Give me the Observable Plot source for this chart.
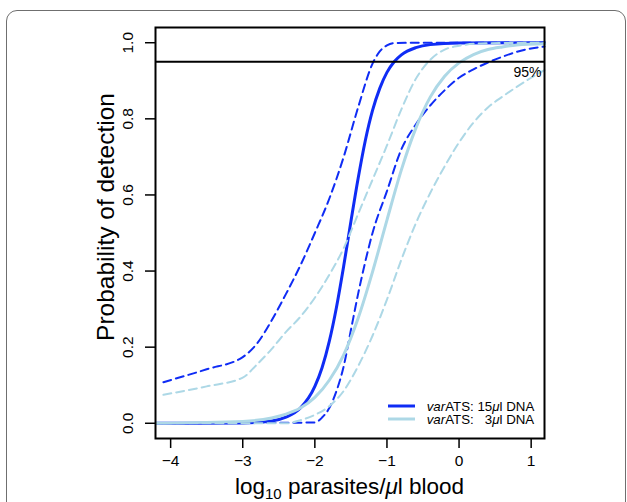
<!DOCTYPE html>
<html>
<head>
<meta charset="utf-8">
<script src="https://cdn.jsdelivr.net/npm/d3@7"></script>
<script src="https://cdn.jsdelivr.net/npm/@observablehq/plot@0.6"></script>
<style>
  body { margin: 0; background: #fff; font-family: "Liberation Sans", Arial, sans-serif; }
  #wrap { position: relative; width: 627px; height: 502px; overflow: hidden; background: #fff; }
  #card { position: absolute; left: 6px; top: 10px; width: 620px; height: 620px; border: 1.6px solid #6f6f6f; border-radius: 11px; box-sizing: border-box; }
  #chart { position: absolute; left: 0; top: 0; }
  #overlay { position: absolute; left: 0; top: 0; pointer-events: none; }
</style>
</head>
<body>
<div id="wrap">
  <div id="card"></div>
  <div id="chart"></div>
  <svg id="overlay" width="627" height="502"></svg>
</div>
<script>
// ---- data ----
const xTicks = [-4, -3, -2, -1, 0, 1];
const yTicks = [0, 0.2, 0.4, 0.6, 0.8, 1.0];
const threshold = 0.95;
const thresholdLabel = "95%";
const xTitle = ["log", "10", " parasites/", "\u03bc", "l blood"];
const yTitle = "Probability of detection";
const legendLabels = [["var", "ATS: 15", "\u03bc", "l DNA"], ["var", "ATS:   3", "\u03bc", "l DNA"]];

// varATS 15 ul DNA: fitted curve
const fit15X = [-4.2, -3.0, -2.6, -2.4, -2.2, -2.0, -1.9, -1.8, -1.7, -1.6, -1.5, -1.4, -1.3, -1.2, -1.1, -1.0, -0.9, -0.8, -0.6, -0.4, 0.0, 1.185];
const fit15  = [0.0, 0.001, 0.006, 0.016, 0.04, 0.097, 0.146, 0.215, 0.305, 0.413, 0.53, 0.643, 0.743, 0.822, 0.88, 0.922, 0.95, 0.968, 0.987, 0.995, 0.999, 1.0];
// varATS 15 ul DNA: upper band
const up15X = [-4.1, -3.5, -3.0, -2.8, -2.6, -2.4, -2.2, -2.0, -1.8, -1.6, -1.4, -1.2, -1.1, -1.0, -0.9, -0.5, 1.185];
const up15  = [0.108, 0.142, 0.174, 0.21, 0.27, 0.34, 0.415, 0.50, 0.59, 0.70, 0.83, 0.945, 0.977, 0.993, 0.999, 1.0, 1.0];
// varATS 15 ul DNA: lower band
const lo15X = [-4.1, -2.0, -1.9, -1.8, -1.7, -1.6, -1.5, -1.4, -1.3, -1.2, -1.0, -0.8, -0.6, -0.4, -0.2, 0.0, 0.2, 0.4, 0.6, 0.8, 1.0, 1.185];
const lo15  = [0.0, 0.002, 0.015, 0.04, 0.085, 0.15, 0.245, 0.34, 0.425, 0.50, 0.61, 0.72, 0.785, 0.835, 0.875, 0.908, 0.93, 0.948, 0.963, 0.976, 0.985, 0.99];
// varATS 3 ul DNA: fitted curve
const fit3X = [-4.2, -3.0, -2.6, -2.4, -2.2, -2.0, -1.8, -1.6, -1.4, -1.2, -1.0, -0.8, -0.6, -0.4, -0.2, 0.0, 0.2, 0.4, 0.6, 0.8, 1.185];
const fit3  = [0.0002, 0.005, 0.014, 0.024, 0.04, 0.068, 0.113, 0.18, 0.276, 0.398, 0.534, 0.666, 0.775, 0.857, 0.912, 0.947, 0.969, 0.982, 0.989, 0.994, 0.997];
// varATS 3 ul DNA: upper band
const up3X = [-4.1, -3.5, -3.0, -2.8, -2.6, -2.4, -2.2, -2.0, -1.8, -1.6, -1.4, -1.2, -1.0, -0.8, -0.6, -0.4, -0.2, 0.0, 0.3, 1.185];
const up3  = [0.075, 0.097, 0.12, 0.155, 0.195, 0.24, 0.28, 0.33, 0.39, 0.46, 0.55, 0.64, 0.73, 0.825, 0.905, 0.955, 0.982, 0.992, 0.998, 1.0];
// varATS 3 ul DNA: lower band
const lo3X = [-4.1, -2.4, -2.2, -2.0, -1.8, -1.6, -1.4, -1.2, -1.0, -0.8, -0.6, -0.4, -0.2, 0.0, 0.2, 0.4, 0.6, 0.8, 1.0, 1.185];
const lo3  = [0.0, 0.0, 0.008, 0.022, 0.045, 0.085, 0.15, 0.23, 0.325, 0.43, 0.525, 0.605, 0.675, 0.738, 0.79, 0.83, 0.858, 0.884, 0.908, 0.928];

// ---- styles ----
const BLUE = "#0f2cf5";
const LIGHT = "#add8e6";
const FONT = "'Liberation Sans', Arial, sans-serif";
const pts = (xs, ys) => xs.map((x, i) => ({x, y: ys[i]}));
const minus = d => (d < 0 ? "\u2212" + Math.abs(d) : String(d));

const solid = (data, color) => Plot.line(data, {x: "x", y: "y", stroke: color, strokeWidth: 3, curve: "monotone-x"});
const dashed = (data, color) => Plot.line(data, {x: "x", y: "y", stroke: color, strokeWidth: 2, strokeDasharray: "8,5", curve: "monotone-x"});

const chart = Plot.plot({
  width: 627,
  height: 502,
  marginLeft: 155,
  marginRight: 83,
  marginTop: 27,
  marginBottom: 64,
  style: {fontFamily: FONT, background: "transparent", color: "#000"},
  x: {domain: [-4.21, 1.185]},
  y: {domain: [-0.04, 1.04]},
  marks: [
    dashed(pts(up15X, up15), BLUE),
    dashed(pts(lo15X, lo15), BLUE),
    solid(pts(fit15X, fit15), BLUE),
    dashed(pts(up3X, up3), LIGHT),
    dashed(pts(lo3X, lo3), LIGHT),
    solid(pts(fit3X, fit3), LIGHT),
    Plot.ruleY([threshold], {stroke: "#000", strokeWidth: 2}),
    Plot.text([threshold], {y: d => d, text: () => thresholdLabel, frameAnchor: "right", textAnchor: "end", lineAnchor: "bottom", dx: -3, dy: 15, fontSize: 14, fill: "#000"}),
    Plot.frame({stroke: "#000", strokeWidth: 2}),
    Plot.axisX({ticks: xTicks, tickSize: 10, tickPadding: 6, tickFormat: minus, fontSize: 15.5, label: null, strokeWidth: 1.5}),
    Plot.axisY({ticks: yTicks, tickSize: 10, tickFormat: () => "", label: null, strokeWidth: 1.5}),
    Plot.text(yTicks, {y: d => d, text: d => d3.format(".1f")(d), frameAnchor: "left", rotate: -90, textAnchor: "middle", lineAnchor: "bottom", dx: -23, fontSize: 15.5, fill: "#000"}),
    Plot.text([yTitle], {text: d => d, frameAnchor: "left", rotate: -90, textAnchor: "middle", lineAnchor: "bottom", dx: -42, dy: -16, fontSize: 24.5, fill: "#000"})
  ]
});
document.getElementById("chart").appendChild(chart);

// ---- overlay: x title (with subscript) and legend ----
const ov = d3.select("#overlay").style("font-family", FONT);
const xt = ov.append("text").attr("x", 349.5).attr("y", 494).attr("text-anchor", "middle").attr("font-size", 22.5).attr("fill", "#000");
xt.append("tspan").text(xTitle[0]);
xt.append("tspan").attr("dy", 5).attr("font-size", 15).text(xTitle[1]);
xt.append("tspan").attr("dy", -5).text(xTitle[2]);
xt.append("tspan").attr("font-style", "italic").text(xTitle[3]);
xt.append("tspan").text(xTitle[4]);

const legendColors = [BLUE, LIGHT];
legendLabels.forEach((lab, i) => {
  const yc = 406 + i * 13;
  ov.append("line").attr("x1", 388).attr("x2", 415).attr("y1", yc).attr("y2", yc).attr("stroke", legendColors[i]).attr("stroke-width", 3);
  const t = ov.append("text").attr("x", 426.7).attr("y", yc + 4.6).attr("font-size", 13.3).attr("fill", "#000").style("white-space", "pre");
  t.append("tspan").attr("font-style", "italic").text(lab[0]);
  t.append("tspan").text(lab[1]);
  t.append("tspan").attr("font-style", "italic").text(lab[2]);
  t.append("tspan").text(lab[3]);
});
</script>
</body>
</html>
